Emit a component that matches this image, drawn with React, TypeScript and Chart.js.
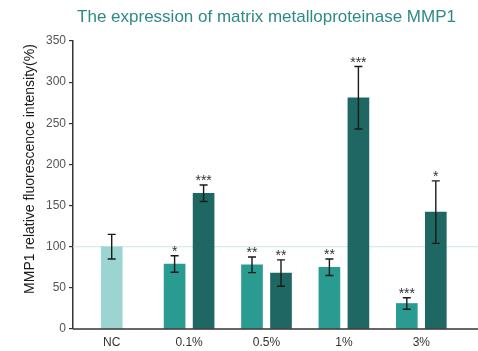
import React, { useEffect, useRef } from "react";
import { Chart, registerables } from "chart.js";

Chart.register(...registerables);

// Group labels along the x axis
const categories = ["NC", "0.1%", "0.5%", "1%", "3%"];

// Negative control (single bar)
const controlValues = [100, null, null, null, null];
const controlErrors = [15, null, null, null, null];
const controlMarks = ["", "", "", "", ""];

// First treatment series
const seriesAValues = [null, 79, 78, 75, 31];
const seriesAErrors = [null, 10, 9.5, 10, 7];
const seriesAMarks = ["", "*", "**", "**", "***"];

// Second treatment series
const seriesBValues = [null, 165, 68, 281, 142];
const seriesBErrors = [null, 10, 16, 38, 38];
const seriesBMarks = ["", "***", "**", "***", "*"];

// Y axis range and reference level
const yMin = 0;
const yMax = 350;
const yStep = 50;
const referenceLevel = 100;

const titleText = "The expression of matrix metalloproteinase MMP1";
const yTitleText = "MMP1 relative fluorescence intensity(%)";

const FONT = '"Liberation Sans", Arial, Helvetica, sans-serif';

const errorSets = [controlErrors, seriesAErrors, seriesBErrors];
const markSets = [controlMarks, seriesAMarks, seriesBMarks];

const decorPlugin = {
  id: "decor",
  beforeDatasetsDraw(chart: any) {
    const { ctx, chartArea, scales } = chart;
    const y = scales.y.getPixelForValue(referenceLevel);
    ctx.save();
    ctx.strokeStyle = "#d3ecec";
    ctx.lineWidth = 1.2;
    ctx.beginPath();
    ctx.moveTo(chartArea.left, y);
    ctx.lineTo(chart.width, y);
    ctx.stroke();
    ctx.restore();
  },
  afterDatasetsDraw(chart: any) {
    const { ctx, chartArea, scales } = chart;
    const ys = scales.y;
    ctx.save();
    // error bars and significance marks
    chart.data.datasets.forEach((ds: any, di: number) => {
      const meta = chart.getDatasetMeta(di);
      const errs = errorSets[di];
      const marks = markSets[di];
      meta.data.forEach((bar: any, i: number) => {
        const v = ds.data[i];
        const e = errs[i];
        if (v == null || e == null) return;
        const x = bar.x;
        const top = ys.getPixelForValue(v + e);
        const bot = ys.getPixelForValue(v - e);
        ctx.strokeStyle = "#1a1a1a";
        ctx.lineWidth = 1.4;
        ctx.beginPath();
        ctx.moveTo(x, top);
        ctx.lineTo(x, bot);
        ctx.moveTo(x - 4, top);
        ctx.lineTo(x + 4, top);
        ctx.moveTo(x - 4, bot);
        ctx.lineTo(x + 4, bot);
        ctx.stroke();
        const m = marks[i];
        if (m) {
          ctx.fillStyle = "#333";
          ctx.font = `14px ${FONT}`;
          ctx.textAlign = "center";
          ctx.textBaseline = "alphabetic";
          ctx.fillText(m, x, top);
        }
      });
    });
    // x baseline running to the right edge
    ctx.strokeStyle = "#333";
    ctx.lineWidth = 1.5;
    ctx.beginPath();
    ctx.moveTo(chartArea.left, chartArea.bottom);
    ctx.lineTo(chart.width, chartArea.bottom);
    ctx.stroke();
    ctx.restore();
  },
  afterDraw(chart: any) {
    const { ctx, chartArea } = chart;
    ctx.save();
    // chart title
    ctx.fillStyle = "#2e8a84";
    ctx.font = `17px ${FONT}`;
    ctx.textAlign = "center";
    ctx.textBaseline = "alphabetic";
    ctx.fillText(titleText, (chartArea.left + chartArea.right) / 2, 22);
    // y axis title
    ctx.translate(30, (chartArea.top + chartArea.bottom) / 2 - 16);
    ctx.rotate(-Math.PI / 2);
    ctx.fillStyle = "#1a1a1a";
    ctx.font = `14px ${FONT}`;
    ctx.textBaseline = "middle";
    ctx.fillText(yTitleText, 0, 0);
    ctx.restore();
  },
};

export default function App() {
  const canvasRef = useRef<HTMLCanvasElement | null>(null);

  useEffect(() => {
    const canvas = canvasRef.current;
    if (!canvas) return;
    const barStyle = {
      barThickness: 29,
      maxBarThickness: 21,
      skipNull: true,
      borderWidth: 0,
    };
    const chart = new Chart(canvas, {
      type: "bar",
      data: {
        labels: categories,
        datasets: [
          { label: "NC", data: controlValues, backgroundColor: "#9cd4d1", ...barStyle },
          { label: "A", data: seriesAValues, backgroundColor: "#2a9b91", ...barStyle },
          { label: "B", data: seriesBValues, backgroundColor: "#1e6763", ...barStyle },
        ],
      },
      options: {
        responsive: false,
        animation: false,
        devicePixelRatio: 1,
        layout: { padding: { top: 41, right: 18, left: 0, bottom: 0 } },
        plugins: {
          legend: { display: false },
          title: { display: false },
          tooltip: { enabled: false },
        },
        scales: {
          x: {
            grid: { display: false, drawTicks: false },
            border: { display: false },
            ticks: {
              color: "#333",
              font: { family: FONT, size: 12 },
              padding: 6,
            },
            afterFit(scale: any) {
              scale.height = 22;
            },
          },
          y: {
            min: yMin,
            max: yMax,
            ticks: {
              stepSize: yStep,
              color: "#555",
              font: { family: FONT, size: 12 },
              padding: 3,
            },
            grid: {
              display: true,
              drawOnChartArea: false,
              drawTicks: true,
              tickLength: 4,
              color: "#333",
              lineWidth: 1.2,
            },
            border: { display: true, color: "#333", width: 1.5 },
            afterFit(scale: any) {
              scale.width = 73;
            },
          },
        },
      },
      plugins: [decorPlugin],
    } as any);
    return () => chart.destroy();
  }, []);

  return (
    <div style={{ position: "absolute", left: 0, top: 0, width: 478, height: 351, background: "#fff" }}>
      <canvas ref={canvasRef} width={478} height={351} style={{ display: "block" }} />
    </div>
  );
}
